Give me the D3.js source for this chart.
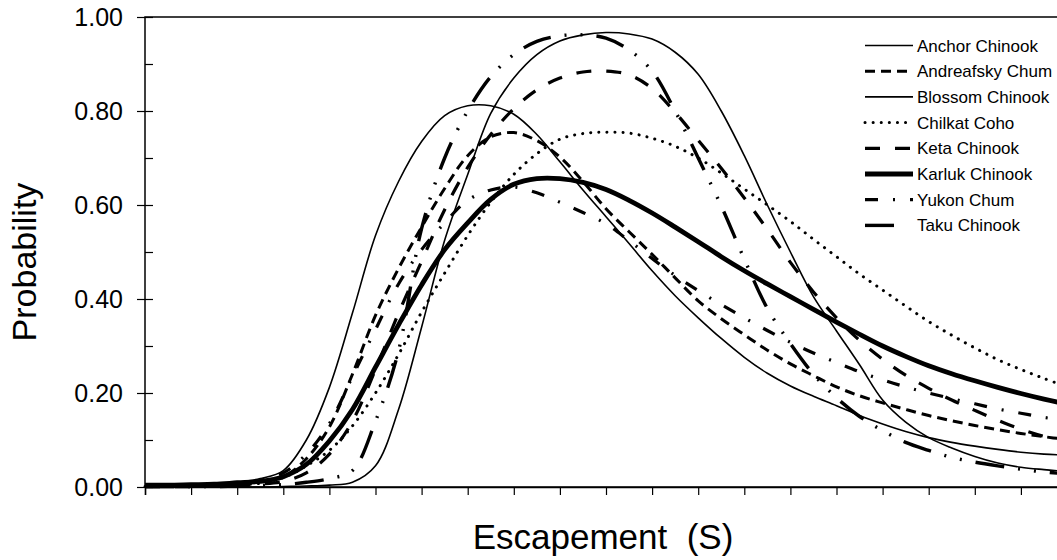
<!DOCTYPE html>
<html>
<head>
<meta charset="utf-8">
<script src="https://cdn.jsdelivr.net/npm/d3@7"></script>
<style>
  html, body { margin: 0; padding: 0; background: #fff; }
  svg { display: block; font-family: "Liberation Sans", Arial, Helvetica, sans-serif; }
</style>
</head>
<body>
<svg id="chart" width="1057" height="560"></svg>
<script>
// Escapement grid (relative units, one unit per x-axis tick)
const escapement = [0, 0.5, 1, 1.5, 2, 2.5, 3, 3.5, 4, 4.5, 5, 5.5, 6, 6.5, 7, 7.5, 8, 8.5, 9, 9.5,
  10, 10.5, 11, 11.5, 12, 12.5, 13, 13.5, 14, 14.5, 15, 15.5, 16, 16.5, 17, 17.5, 18, 18.5, 19, 19.5, 20];

// Probability of achieving the escapement goal, one array per stock
const anchorChinook = [0.003, 0.003, 0.004, 0.006, 0.010, 0.018, 0.035, 0.100, 0.212, 0.370, 0.535, 0.650, 0.735, 0.790, 0.811, 0.811, 0.793, 0.750, 0.692, 0.632, 0.575,
  0.518, 0.460, 0.407, 0.360, 0.316, 0.276, 0.242, 0.215, 0.193, 0.173, 0.152, 0.134, 0.118, 0.105, 0.095, 0.087, 0.080, 0.074, 0.070, 0.068];
const andreafskyChum = [0.002, 0.002, 0.003, 0.005, 0.008, 0.013, 0.022, 0.060, 0.128, 0.240, 0.365, 0.465, 0.553, 0.635, 0.705, 0.745, 0.754, 0.737, 0.702, 0.650, 0.592,
  0.543, 0.495, 0.445, 0.396, 0.358, 0.324, 0.291, 0.262, 0.237, 0.213, 0.194, 0.179, 0.165, 0.152, 0.141, 0.131, 0.122, 0.114, 0.107, 0.101];
const blossomChinook = [0.000, 0.000, 0.000, 0.000, 0.000, 0.000, 0.001, 0.002, 0.004, 0.010, 0.045, 0.165, 0.340, 0.525, 0.665, 0.795, 0.870, 0.920, 0.949, 0.962, 0.967,
  0.964, 0.953, 0.925, 0.878, 0.800, 0.705, 0.600, 0.500, 0.405, 0.332, 0.260, 0.185, 0.138, 0.105, 0.083, 0.065, 0.051, 0.042, 0.037, 0.033];
const chilkatCoho = [0.001, 0.001, 0.001, 0.002, 0.004, 0.008, 0.020, 0.045, 0.078, 0.130, 0.200, 0.282, 0.372, 0.455, 0.535, 0.606, 0.665, 0.709, 0.740, 0.752, 0.755,
  0.753, 0.742, 0.725, 0.700, 0.668, 0.634, 0.600, 0.565, 0.527, 0.490, 0.453, 0.419, 0.385, 0.352, 0.323, 0.296, 0.271, 0.250, 0.231, 0.213];
const ketaChinook = [0.001, 0.001, 0.001, 0.002, 0.003, 0.006, 0.012, 0.030, 0.070, 0.140, 0.250, 0.370, 0.480, 0.590, 0.680, 0.750, 0.805, 0.845, 0.870, 0.883, 0.885,
  0.877, 0.848, 0.797, 0.738, 0.678, 0.615, 0.548, 0.478, 0.415, 0.360, 0.312, 0.272, 0.238, 0.210, 0.185, 0.163, 0.142, 0.123, 0.108, 0.098];
const karlukChinook = [0.004, 0.004, 0.005, 0.006, 0.009, 0.012, 0.022, 0.048, 0.098, 0.165, 0.255, 0.345, 0.430, 0.505, 0.562, 0.612, 0.644, 0.656, 0.656, 0.648, 0.633,
  0.610, 0.583, 0.553, 0.522, 0.490, 0.460, 0.432, 0.405, 0.378, 0.351, 0.325, 0.300, 0.278, 0.258, 0.241, 0.226, 0.212, 0.199, 0.187, 0.176];
const yukonChum = [0.004, 0.004, 0.004, 0.005, 0.008, 0.015, 0.030, 0.070, 0.135, 0.235, 0.335, 0.432, 0.505, 0.562, 0.610, 0.632, 0.638, 0.626, 0.606, 0.584, 0.560,
  0.524, 0.486, 0.450, 0.418, 0.388, 0.360, 0.333, 0.308, 0.285, 0.265, 0.245, 0.228, 0.213, 0.200, 0.188, 0.177, 0.166, 0.157, 0.148, 0.142];
const takuChinook = [0.001, 0.001, 0.001, 0.001, 0.002, 0.003, 0.005, 0.010, 0.018, 0.035, 0.140, 0.290, 0.550, 0.700, 0.800, 0.873, 0.920, 0.948, 0.960, 0.962, 0.955,
  0.930, 0.885, 0.800, 0.700, 0.598, 0.485, 0.380, 0.305, 0.240, 0.190, 0.150, 0.120, 0.095, 0.078, 0.063, 0.053, 0.045, 0.038, 0.032, 0.028];

const stockNames = ["Anchor Chinook", "Andreafsky Chum", "Blossom Chinook", "Chilkat Coho",
  "Keta Chinook", "Karluk Chinook", "Yukon Chum", "Taku Chinook"];
const stockValues = [anchorChinook, andreafskyChum, blossomChinook, chilkatCoho,
  ketaChinook, karlukChinook, yukonChum, takuChinook];

const yMajorTicks = [0, 0.2, 0.4, 0.6, 0.8, 1.0];
const yMinorTicks = [0.1, 0.3, 0.5, 0.7, 0.9];
const xTicks = d3.range(0, 21);
const xTitle = "Escapement  (S)";
const yTitle = "Probability";

// Line style for each stock (keyLen: length of the legend sample)
const styles = {
  "Anchor Chinook":  { width: 1.6, dash: null, cap: "butt", keyLen: 48 },
  "Andreafsky Chum": { width: 3,   dash: "10,6", cap: "butt", keyLen: 48 },
  "Blossom Chinook": { width: 1.6, dash: null, cap: "butt", keyLen: 48 },
  "Chilkat Coho":    { width: 3,   dash: "0.1,8", cap: "round", keyLen: 48 },
  "Keta Chinook":    { width: 3.2, dash: "15,15", cap: "butt", keyLen: 48 },
  "Karluk Chinook":  { width: 4.8, dash: null, cap: "butt", keyLen: 48 },
  "Yukon Chum":      { width: 3.2, dash: "13,15,2,15", cap: "butt", keyLen: 48 },
  "Taku Chinook":    { width: 3.4, dash: "29,14,2,14,2,14", cap: "butt", keyLen: 30 }
};

const svg = d3.select("#chart");
const plotLeft = 145, plotRight = 1067, plotTop = 17, plotBottom = 487;

const x = d3.scaleLinear().domain([0, 20]).range([plotLeft, plotRight]);
const y = d3.scaleLinear().domain([0, 1]).range([plotBottom, plotTop]);

// Curves
const line = d3.line()
  .x(d => x(d[0]))
  .y(d => y(Math.max(0, d[1])))
  .curve(d3.curveCatmullRom.alpha(0.5));

const plot = svg.append("g");
stockNames.forEach((name, i) => {
  const s = styles[name];
  plot.append("path")
    .datum(escapement.map((e, j) => [e, stockValues[i][j]]))
    .attr("d", line)
    .attr("fill", "none")
    .attr("stroke", "#000")
    .attr("stroke-width", s.width)
    .attr("stroke-linecap", s.cap)
    .attr("stroke-linejoin", "round")
    .attr("stroke-dasharray", s.dash);
});

// Frame
svg.append("rect")
  .attr("x", plotLeft).attr("y", plotTop)
  .attr("width", plotRight - plotLeft).attr("height", plotBottom - plotTop)
  .attr("fill", "none").attr("stroke", "#000").attr("stroke-width", 1.5);

// Y axis: minor ticks inside, major ticks crossing the axis
svg.append("g")
  .attr("transform", `translate(${plotLeft},0)`)
  .call(d3.axisLeft(y).tickValues(yMinorTicks.concat(yMajorTicks)).tickSize(-8).tickFormat(""))
  .call(g => g.select(".domain").remove())
  .call(g => g.selectAll("line").attr("stroke-width", 1.2));

svg.append("g")
  .attr("transform", `translate(${plotLeft},0)`)
  .call(d3.axisLeft(y).tickValues(yMajorTicks).tickSize(8).tickPadding(14).tickFormat(d3.format(".2f")))
  .call(g => g.select(".domain").remove())
  .call(g => g.selectAll("line").attr("stroke-width", 1.2))
  .call(g => g.selectAll("text")
    .attr("font-size", 25)
    .attr("font-family", "'Liberation Sans', Arial, sans-serif")
    .attr("fill", "#000"));

// X axis ticks (unlabelled)
svg.append("g")
  .attr("transform", `translate(0,${plotBottom})`)
  .call(d3.axisBottom(x).tickValues(xTicks).tickSize(8).tickFormat(""))
  .call(g => g.select(".domain").attr("stroke-width", 1.5))
  .call(g => g.selectAll("line").attr("stroke-width", 1.2));

// Axis titles
svg.append("text")
  .attr("x", 603).attr("y", 549)
  .attr("text-anchor", "middle")
  .attr("font-size", 35)
  .style("white-space", "pre")
  .text(xTitle);

svg.append("text")
  .attr("transform", "translate(36,262) rotate(-90)")
  .attr("text-anchor", "middle")
  .attr("font-size", 34)
  .text(yTitle);

// Legend
const legend = svg.append("g");
stockNames.forEach((name, i) => {
  const s = styles[name];
  const ry = 45.5 + i * 25.7;
  legend.append("line")
    .attr("x1", 865).attr("x2", 865 + s.keyLen)
    .attr("y1", ry).attr("y2", ry)
    .attr("stroke", "#000")
    .attr("stroke-width", s.width)
    .attr("stroke-linecap", s.cap)
    .attr("stroke-dasharray", s.dash);
  legend.append("text")
    .attr("x", 917).attr("y", ry + 6)
    .attr("font-size", 17)
    .text(name);
});
</script>
</body>
</html>
